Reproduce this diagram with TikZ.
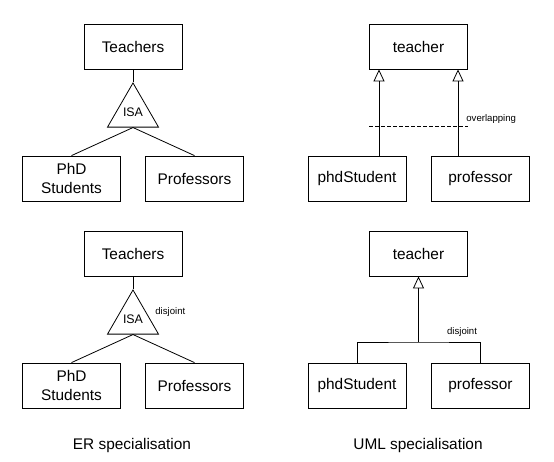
\documentclass[tikz,border=0pt]{standalone}
\usepackage{fontspec}
\setmainfont{Liberation Sans}
\usetikzlibrary{shapes.geometric,arrows.meta}

\begin{document}
\begin{tikzpicture}[x=1pt,y=-1pt,line width=0.8pt,
   entity/.style={draw,minimum width=98pt,minimum height=45pt,inner sep=2pt,align=center,
                  font=\fontsize{15.4}{18.5}\selectfont},
   isa/.style={draw,regular polygon,regular polygon sides=3,minimum size=58.9pt,inner sep=0pt,
               font=\fontsize{12.4}{14}\selectfont},
   note/.style={inner sep=0pt,font=\fontsize{9.6}{11}\selectfont},
   gen/.style={-{Triangle[open,length=12pt,width=11pt]}},
   caption/.style={anchor=base,font=\fontsize{15.4}{18}\selectfont}]
   \useasboundingbox (0,0) rectangle (554,461);

   % ER, top
   \node[entity] (teachers1) at (133,46.5) {Teachers};
   \node[isa] (isa1) at (133,112.4) {ISA};
   \node[entity] (phd1) at (71.5,178.5) {PhD\\Students};
   \node[entity] (prof1) at (194.5,178.5) {Professors};
   \draw (teachers1.south) -- (isa1.corner 1);
   \draw (isa1.south) -- (phd1.north);
   \draw (isa1.south) -- (prof1.north);

   % UML, top
   \node[entity] (teacher2) at (418.5,46.5) {teacher};
   \node[entity] (student2) at (357,178.5) {phdStudent};
   \node[entity] (professor2) at (480.5,178.5) {professor};
   \draw[gen] ([xshift=22pt]student2.north) -- ([xshift=22pt]student2.north |- teacher2.south);
   \draw[gen] ([xshift=-22.5pt]professor2.north) -- ([xshift=-22.5pt]professor2.north |- teacher2.south);
   \coordinate (ovl) at (418.5,126);
   \draw[dashed,line width=0.6pt,dash pattern=on 3.5pt off 2.5pt] (teacher2.west |- ovl) -- (teacher2.east |- ovl);
   \node[note,anchor=west] (ovltext) at (466,118.7) {overlapping};

   % ER, bottom
   \node[entity] (teachers3) at (133,253.5) {Teachers};
   \node[isa] (isa3) at (133,319.4) {ISA};
   \node[entity] (phd3) at (71.5,385.5) {PhD\\Students};
   \node[entity] (prof3) at (194.5,385.5) {Professors};
   \draw (teachers3.south) -- (isa3.corner 1);
   \draw (isa3.south) -- (phd3.north);
   \draw (isa3.south) -- (prof3.north);
   \node[note,anchor=west] (dis3) at (155,311.7) {disjoint};

   % UML, bottom
   \node[entity] (teacher4) at (418.5,253.5) {teacher};
   \node[entity] (student4) at (357,385.5) {phdStudent};
   \node[entity] (professor4) at (480.5,385.5) {professor};
   \coordinate (bar) at (418.5,342);
   \draw (student4.north) |- (bar) -| (professor4.north);
   \draw[gen] (bar) -- (teacher4.south);
   \node[note,anchor=west] (dis4) at (446.7,331.7) {disjoint};

   \node[caption] (er) at (132,449) {ER specialisation};
   \node[caption] (uml) at (418,449.5) {UML specialisation};
\end{tikzpicture}
\end{document}
